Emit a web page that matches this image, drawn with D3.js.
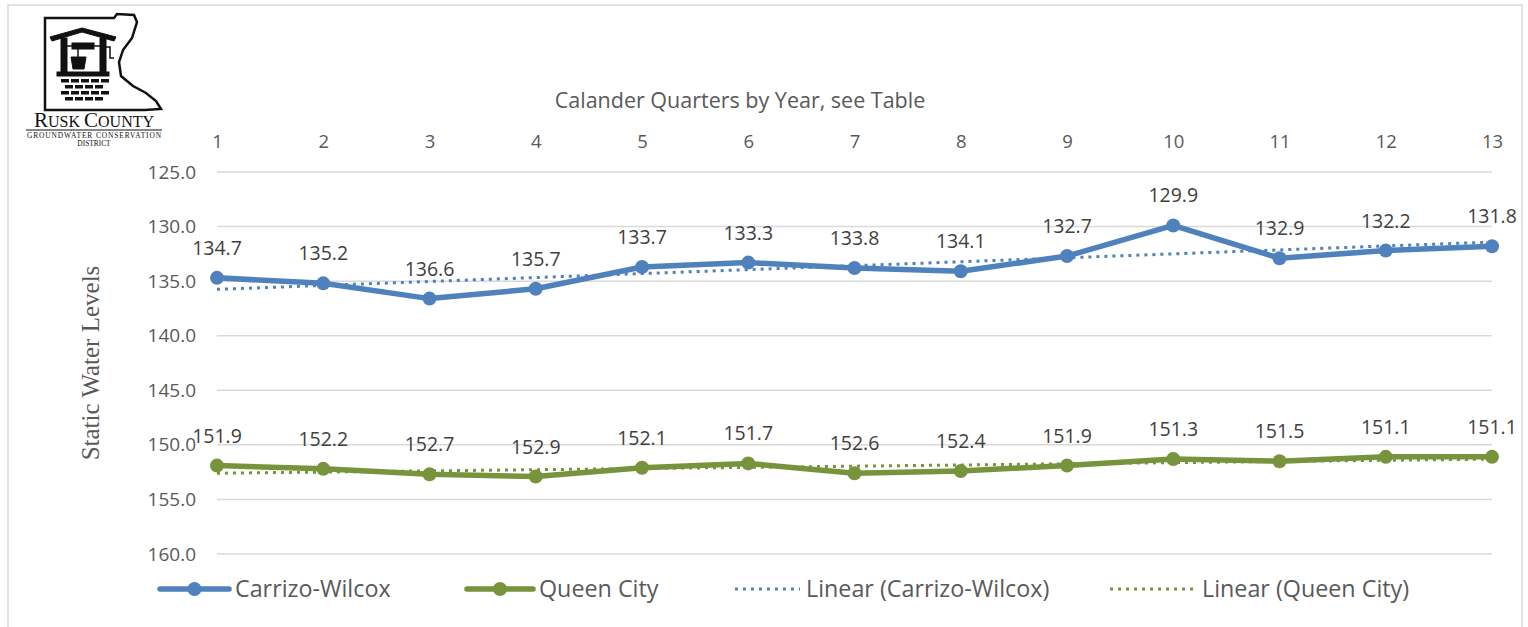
<!DOCTYPE html>
<html>
<head>
<meta charset="utf-8">
<script src="https://cdn.jsdelivr.net/npm/d3@7"></script>
<style>
  body { margin: 0; background: #fff; }
  svg { display: block; }
  .tick text { font-family: "Open Sans", sans-serif; fill: #595959; }
</style>
</head>
<body>
<svg id="chart"></svg>
<script>
// quarters on the x axis (see table in source doc)
const quarters = [1, 2, 3, 4, 5, 6, 7, 8, 9, 10, 11, 12, 13];
const carrizoWilcox = [134.7, 135.2, 136.6, 135.7, 133.7, 133.3, 133.8, 134.1, 132.7, 129.9, 132.9, 132.2, 131.8];
const queenCity = [151.9, 152.2, 152.7, 152.9, 152.1, 151.7, 152.6, 152.4, 151.9, 151.3, 151.5, 151.1, 151.1];
const yTicks = [125, 130, 135, 140, 145, 150, 155, 160];

const blue = "#4f81bd";
const green = "#77933c";

const W = 1528, H = 627;
const svg = d3.select("#chart").attr("width", W).attr("height", H);

// chart frame
svg.append("path")
  .attr("d", `M8,${H} V5 H1522 V${H}`)
  .attr("fill", "none").attr("stroke", "#d9d9d9").attr("stroke-width", 1.5);

const x = d3.scalePoint().domain(quarters).range([217, 1492]);
const y = d3.scaleLinear().domain([125, 160]).range([172, 554]);

// gridlines
svg.append("g").selectAll("line").data(yTicks).join("line")
  .attr("x1", 217).attr("x2", 1492)
  .attr("y1", d => y(d)).attr("y2", d => y(d))
  .attr("stroke", "#d9d9d9").attr("stroke-width", 1.5);

// axes
const xAxis = svg.append("g")
  .attr("transform", "translate(0,142)")
  .call(d3.axisTop(x).tickSize(0).tickPadding(0));
xAxis.select(".domain").remove();
xAxis.selectAll("text").attr("font-size", 18.5).attr("dy", "0.35em");

const yAxis = svg.append("g")
  .attr("transform", "translate(196,0)")
  .call(d3.axisLeft(y).tickValues(yTicks).tickFormat(d3.format(".1f")).tickSize(0).tickPadding(0));
yAxis.select(".domain").remove();
yAxis.selectAll("text").attr("font-size", 19);

svg.append("text")
  .attr("x", 740).attr("y", 108).attr("text-anchor", "middle")
  .attr("font-family", "Open Sans, sans-serif").attr("font-size", 21.5).attr("fill", "#595959")
  .text("Calander Quarters by Year, see Table");

svg.append("text")
  .attr("transform", "translate(99,363) rotate(-90)")
  .attr("text-anchor", "middle")
  .attr("font-family", "Liberation Serif, serif").attr("font-size", 25).attr("fill", "#595959")
  .text("Static Water Levels");

// least squares trend, as Excel's linear trendline
function linearFit(xs, ys) {
  const mx = d3.mean(xs), my = d3.mean(ys);
  const slope = d3.sum(xs, (v, i) => (v - mx) * (ys[i] - my)) / d3.sum(xs, v => (v - mx) ** 2);
  return xs.map(v => my + slope * (v - mx));
}

const series = [
  { name: "Carrizo-Wilcox", values: carrizoWilcox, color: blue },
  { name: "Queen City", values: queenCity, color: green }
];

const line = d3.line().x((d, i) => x(quarters[i])).y(d => y(d));

series.forEach(s => {
  const g = svg.append("g");
  g.append("path").datum(s.values)
    .attr("d", line).attr("fill", "none")
    .attr("stroke", s.color).attr("stroke-width", 5.5).attr("stroke-linejoin", "round");
  g.append("path").datum(linearFit(quarters, s.values))
    .attr("d", line).attr("fill", "none")
    .attr("stroke", s.color).attr("stroke-width", 3)
    .attr("stroke-dasharray", "3 5");
  g.selectAll("circle").data(s.values).join("circle")
    .attr("cx", (d, i) => x(quarters[i])).attr("cy", d => y(d)).attr("r", 7)
    .attr("fill", s.color);
  g.selectAll(".lbl").data(s.values).join("text")
    .attr("class", "lbl")
    .attr("x", (d, i) => x(quarters[i])).attr("y", d => y(d) - 23)
    .attr("text-anchor", "middle")
    .attr("font-family", "Open Sans, sans-serif").attr("font-size", 19.5).attr("fill", "#404040")
    .text(d => d3.format(".1f")(d));
});

// legend
const legendItems = [
  { label: "Carrizo-Wilcox", color: blue, x0: 160, x1: 229, dotted: false },
  { label: "Queen City", color: green, x0: 467, x1: 533, dotted: false },
  { label: "Linear (Carrizo-Wilcox)", color: blue, x0: 735, x1: 800, dotted: true },
  { label: "Linear (Queen City)", color: green, x0: 1110, x1: 1196, dotted: true }
];
const lg = svg.append("g").selectAll("g").data(legendItems).join("g");
lg.append("line")
  .attr("x1", d => d.x0).attr("x2", d => d.x1).attr("y1", 589).attr("y2", 589)
  .attr("stroke", d => d.color)
  .attr("stroke-width", d => d.dotted ? 3 : 5.5)
  .attr("stroke-linecap", d => d.dotted ? "butt" : "round")
  .attr("stroke-dasharray", d => d.dotted ? "3 5" : null);
lg.filter(d => !d.dotted).append("circle")
  .attr("cx", d => (d.x0 + d.x1) / 2).attr("cy", 589).attr("r", 7).attr("fill", d => d.color);
lg.append("text")
  .attr("x", d => d.x1 + 6).attr("y", 597)
  .attr("font-family", "Open Sans, sans-serif").attr("font-size", 23.3).attr("fill", "#595959")
  .text(d => d.label);

// logo (Rusk County GCD)
const logo = svg.append("g").attr("stroke", "#111").attr("fill", "none");
logo.append("path")
  .attr("d", "M45,18 H114 L117,14 L134,15 L137,22 L132,38 L123,50 L119,62 L121,76 L133,86 L146,93 L156,101 L161,109 L145,110 H45 Z")
  .attr("stroke-width", 2.5);
logo.append("path").attr("d", "M50,37 L82,28 L116,37 L114,41 L82,32 L52,41 Z").attr("fill", "#111");
logo.append("rect").attr("x", 61).attr("y", 38).attr("width", 6).attr("height", 34).attr("fill", "#111");
logo.append("rect").attr("x", 100).attr("y", 38).attr("width", 6).attr("height", 34).attr("fill", "#111");
logo.append("rect").attr("x", 72).attr("y", 43).attr("width", 22).attr("height", 6).attr("fill", "#111");
logo.append("line").attr("x1", 67).attr("x2", 100).attr("y1", 46).attr("y2", 46).attr("stroke-width", 1.5);
logo.append("line").attr("x1", 78).attr("x2", 78).attr("y1", 49).attr("y2", 57).attr("stroke-width", 1.5);
logo.append("path").attr("d", "M71,57 H86 L84,69 H73 Z").attr("fill", "#111");
logo.append("path").attr("d", "M106,47 H110 V58 H114").attr("stroke-width", 1.5);
logo.append("rect").attr("x", 57).attr("y", 72).attr("width", 52).attr("height", 4).attr("fill", "#111");
[79, 85, 91, 97].forEach((yy, r) => {
  const off = r % 2 ? 4 : 0;
  for (let bx = 61 + off; bx < 104; bx += 10) {
    logo.append("rect").attr("x", bx).attr("y", yy).attr("width", 8).attr("height", 3.5)
      .attr("fill", "#111").attr("stroke", "none");
  }
});
const logoText = svg.append("g").attr("font-family", "Liberation Serif, serif").attr("fill", "#111");
const rusk = logoText.append("text").attr("x", 94).attr("y", 127).attr("text-anchor", "middle");
rusk.append("tspan").attr("font-size", 21).text("R");
rusk.append("tspan").attr("font-size", 16).text("USK ");
rusk.append("tspan").attr("font-size", 21).text("C");
rusk.append("tspan").attr("font-size", 16).text("OUNTY");
svg.append("line").attr("x1", 26).attr("x2", 162).attr("y1", 130).attr("y2", 130)
  .attr("stroke", "#111").attr("stroke-width", 1.2);
logoText.append("text").attr("x", 94).attr("y", 137.5).attr("text-anchor", "middle")
  .attr("font-size", 7.4).attr("textLength", 134).text("GROUNDWATER CONSERVATION");
logoText.append("text").attr("x", 94).attr("y", 146).attr("text-anchor", "middle")
  .attr("font-size", 7.4).text("DISTRICT");
</script>
</body>
</html>
